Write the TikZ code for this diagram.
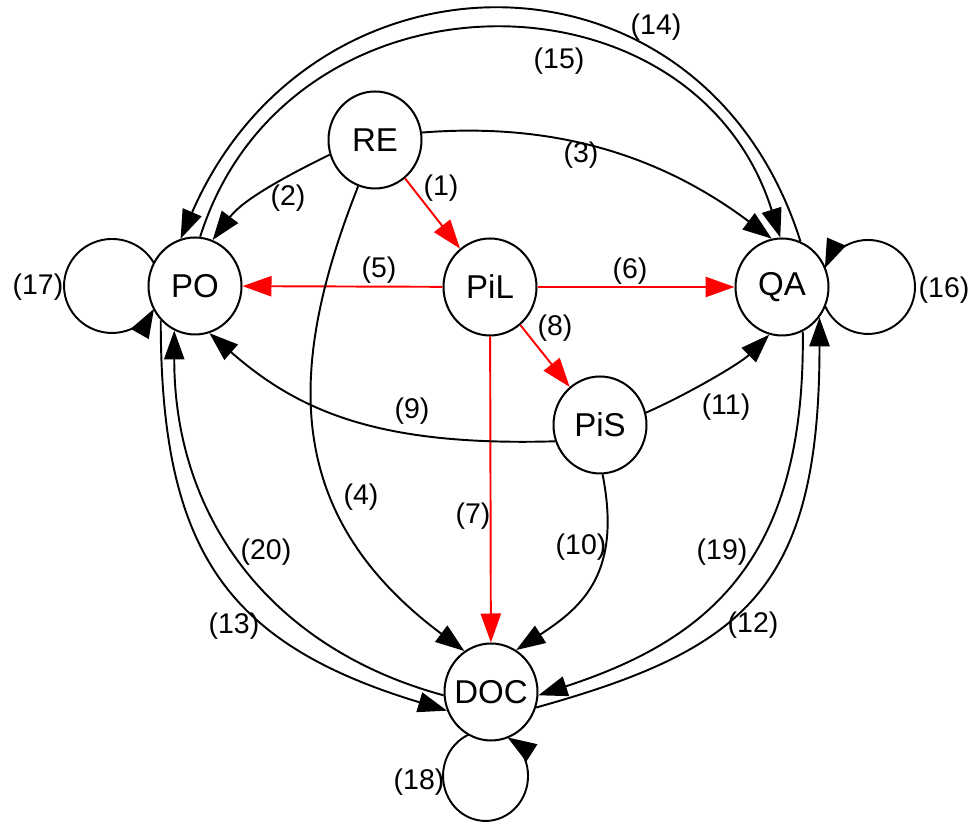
\documentclass[tikz,border=0pt]{standalone}
\usepackage{fontspec}
\setmainfont{Liberation Sans}
\usetikzlibrary{arrows.meta,shapes.geometric}
\begin{document}
\begin{tikzpicture}[x=0.02cm,y=0.02cm,
  stnode/.style={ellipse,draw,line width=1.15pt,minimum width=1.86cm,minimum height=1.94cm,inner sep=0pt,font=\fontsize{18.8}{20}\selectfont},
  lab/.style={font=\fontsize{16.2}{18}\selectfont,inner sep=0pt},
  conn/.style={line width=1.1pt,-{Triangle[length=16.5pt,width=11.5pt]}},
  rconn/.style={conn,red},
]
\useasboundingbox (0,0) rectangle (970,827);
% states
\node[stnode] (RE)  at (375,687) {\makebox[0pt]{RE}};
\node[stnode] (PO)  at (195,541) {\makebox[0pt]{PO}};
\node[stnode] (PiL) at (490,540) {\makebox[0pt]{PiL}};
\node[stnode] (QA)  at (782,540) {\makebox[0pt]{QA}};
\node[stnode] (PiS) at (600,402) {\makebox[0pt]{PiS}};
\node[stnode] (DOC) at (491,135) {\makebox[0pt]{DOC}};
% red transitions
\draw[rconn] (RE) -- (PiL);
\draw[rconn] (PiL) -- (PO);
\draw[rconn] (PiL) -- (QA);
\draw[rconn] (PiL) -- (DOC);
\draw[rconn] (PiL) -- (PiS);
% black transitions
\draw[conn] (RE.198) .. controls +(-45,-22) and +(30,40) .. (PO.69);
\draw[conn] (RE.9) .. controls +(150,12) and +(-96,72) .. (QA.102);
\draw[conn] (RE.-110) .. controls +(-72,-182) and +(-182,136) .. (DOC.123);
\draw[conn] (PiS.200) .. controls +(-175,-5) and +(90,-79) .. (PO.-73);
\draw[conn] (PiS.-87) .. controls +(19,-97) and +(68,44) .. (DOC.59);
\draw[conn] (PiS.15) .. controls +(45,20) and +(-28,-28) .. (QA.-105);
\draw[conn] (DOC.-19) .. controls +(208,58) and +(0,-272) .. (QA.-39);
\draw[conn] (QA.-65) .. controls +(3,-230) and +(168,55) .. (DOC.-4);
\draw[conn] (PO.-135) .. controls +(0,-230) and +(-221,67) .. (DOC.203);
\draw[conn] (DOC.184) .. controls +(-170,46) and +(0,-190) .. (PO.-115);
\draw[conn] (QA.68) .. controls +(-97.5,308.5) and +(132,303.5) .. (PO.107);
\draw[conn] (PO.84) .. controls +(87,276) and +(-87,277) .. (QA.92);
% self loops
\draw[conn] ([shift={(-41.0,22.8)}]PO.center) arc[start angle=29, end angle=331, x radius=0.96cm, y radius=0.94cm];
\draw[conn] ([shift={(42.9,-18.7)}]QA.center) arc[start angle=-156.5, end angle=156.5, radius=0.94cm];
\draw[conn] ([shift={(-22.2,-42.6)}]DOC.center) arc[start angle=113.2, end angle=419, x radius=0.85cm, y radius=0.9cm];
% labels
\node[lab] (l1)  at (441,639) {(1)};
\node[lab] (l2)  at (288,629) {(2)};
\node[lab] (l3)  at (581,672) {(3)};
\node[lab] (l4)  at (361,330) {(4)};
\node[lab] (l5)  at (379,557) {(5)};
\node[lab] (l6)  at (630,556) {(6)};
\node[lab] (l7)  at (473,311) {(7)};
\node[lab] (l8)  at (555,499) {(8)};
\node[lab] (l9)  at (412,416) {(9)};
\node[lab] (l10) at (581,280) {(10)};
\node[lab] (l11) at (726,420) {(11)};
\node[lab] (l12) at (753,202) {(12)};
\node[lab] (l13) at (234,201) {(13)};
\node[lab] (l14) at (656,800) {(14)};
\node[lab] (l15) at (559,766) {(15)};
\node[lab] (l16) at (944,537) {(16)};
\node[lab] (l17) at (38,540) {(17)};
\node[lab] (l18) at (419,45) {(18)};
\node[lab] (l19) at (722,275) {(19)};
\node[lab] (l20) at (266,275) {(20)};
\end{tikzpicture}
\end{document}
